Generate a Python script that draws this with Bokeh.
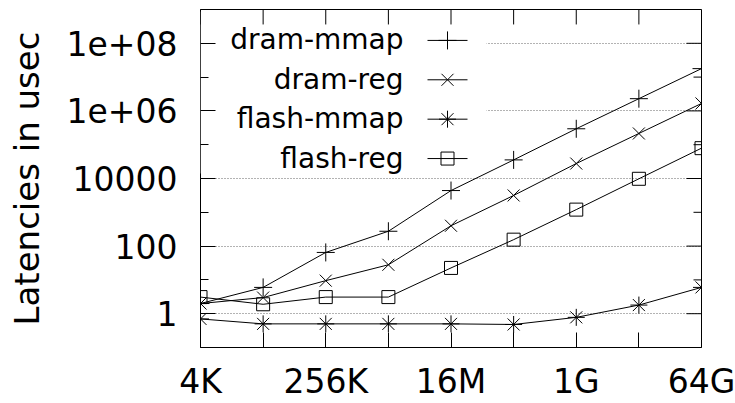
from bokeh.plotting import figure
from bokeh.models import Range1d, FixedTicker, Label, BoxAnnotation, LinearScale
from bokeh.embed import file_html
from bokeh.resources import INLINE

# ---- data ----
sizes = [4096, 32768, 262144, 2097152, 16777216, 134217728,
         1073741824, 8589934592, 68719476736]
x_tick_values = [4096, 262144, 16777216, 1073741824, 68719476736]
x_tick_labels = ["4K", "256K", "16M", "1G", "64G"]
x_minor_values = [32768, 2097152, 134217728, 8589934592]
y_tick_values = [1, 100, 10000, 1000000, 100000000]
y_tick_labels = ["1", "100", "10000", "1e+06", "1e+08"]
y_minor_values = [0.1, 10, 1000, 100000, 10000000, 1000000000]

dram_mmap = [2.0, 6.0, 65, 275, 4400, 35500, 296000, 2.3e6, 1.78e7]
dram_reg = [2.0, 3.0, 9.5, 28, 400, 3150, 27700, 215000, 1.66e6]
flash_mmap = [0.7, 0.5, 0.5, 0.5, 0.5, 0.48, 0.78, 1.8, 6.0]
flash_reg = [3.1, 1.9, 3.1, 3.1, 22.6, 155, 1200, 9800, 79000]

series_names = ["dram-mmap", "dram-reg", "flash-mmap", "flash-reg"]
series_values = [dram_mmap, dram_reg, flash_mmap, flash_reg]
series_markers = ["cross", "x", "asterisk", "square"]
series_sizes = [18, 17, 17, 13]

FONT = "DejaVu Sans"
W, H = 735, 403
BL, BR, BT, BB = 200, 34, 9, 55
FW, FH = W - BL - BR, H - BT - BB

p = figure(width=W, height=H, output_backend="svg", toolbar_location=None,
           x_axis_type="log", y_axis_type="log",
           x_range=Range1d(sizes[0], sizes[-1]), y_range=Range1d(0.1, 1e9),
           min_border_left=BL, min_border_right=BR, min_border_top=BT,
           min_border_bottom=BB)
p.outline_line_color = "black"
p.outline_line_width = 1
p.background_fill_color = "white"
p.border_fill_color = "white"

# pixel-coordinate ranges inside the frame (for key and mirrored ticks)
p.extra_x_ranges = {"px": Range1d(0, FW)}
p.extra_y_ranges = {"px": Range1d(0, FH)}
p.extra_x_scales = {"px": LinearScale()}
p.extra_y_scales = {"px": LinearScale()}

xt = FixedTicker(ticks=x_tick_values, minor_ticks=x_minor_values)
yt = FixedTicker(ticks=y_tick_values, minor_ticks=y_minor_values)

# bottom axis
xa = p.xaxis[0]
xa.ticker = xt
xa.major_label_overrides = {v: l for v, l in zip(x_tick_values, x_tick_labels)}
xa.major_tick_in = 15
xa.major_tick_out = 0
xa.minor_tick_in = 15
xa.minor_tick_out = 0
xa.axis_line_color = None
xa.major_tick_line_color = "black"
xa.minor_tick_line_color = "black"
xa.major_label_text_font = FONT
xa.major_label_text_font_size = "33px"
xa.major_label_text_color = "black"
xa.major_label_standoff = 14

# left axis
ya = p.yaxis[0]
ya.ticker = yt
ya.major_label_overrides = {v: l for v, l in zip(y_tick_values, y_tick_labels)}
ya.major_tick_in = 15
ya.major_tick_out = 0
ya.minor_tick_in = 8
ya.minor_tick_out = 0
ya.axis_line_color = None
ya.major_tick_line_color = "black"
ya.minor_tick_line_color = "black"
ya.major_label_text_font = FONT
ya.major_label_text_font_size = "33px"
ya.major_label_text_color = "black"
ya.major_label_standoff = 23
ya.axis_label = "Latencies in usec"
ya.axis_label_text_font = FONT
ya.axis_label_text_font_size = "34px"
ya.axis_label_text_font_style = "normal"
ya.axis_label_text_color = "black"
ya.axis_label_standoff = 17

p.xgrid.grid_line_color = None
p.ygrid.ticker = yt
p.ygrid.grid_line_color = "#666666"
p.ygrid.grid_line_dash = "1 2"
p.ygrid.grid_line_width = 1

# opaque key area
p.add_layout(BoxAnnotation(left=0, right=286, bottom=174, top=FH - 3,
                           left_units="screen", right_units="screen",
                           top_units="screen", bottom_units="screen",
                           fill_color="white", fill_alpha=1, line_color=None,
                           level="underlay"))

# mirrored ticks (top and right)
p.segment(x0=sizes, x1=sizes, y0=FH - 15, y1=FH, line_color="black",
          line_width=1, y_range_name="px")
p.segment(x0=FW - 15, x1=FW, y0=y_tick_values, y1=y_tick_values,
          line_color="black", line_width=1, x_range_name="px")
p.segment(x0=FW - 8, x1=FW, y0=y_minor_values, y1=y_minor_values,
          line_color="black", line_width=1, x_range_name="px")

key_x0, key_x1, key_text_x = 227, 267, 203
key_rows = [308, 268.5, 229, 189.5]

for name, vals, mk, ms, ky in zip(series_names, series_values, series_markers,
                                  series_sizes, key_rows):
    p.line(sizes, vals, line_color="black", line_width=1)
    p.scatter(sizes, vals, marker=mk, size=ms, line_color="black",
              fill_color=None, line_width=1)
    # key sample
    p.line([key_x0, key_x1], [ky, ky], line_color="black", line_width=1,
           x_range_name="px", y_range_name="px")
    p.scatter([(key_x0 + key_x1) / 2], [ky], marker=mk, size=ms,
              line_color="black", fill_color=None, line_width=1,
              x_range_name="px", y_range_name="px")
    p.add_layout(Label(x=key_text_x, y=ky, x_units="screen", y_units="screen",
                       text=name, text_align="right", text_baseline="middle",
                       text_font=FONT, text_font_size="28px",
                       text_color="black"))

open("out.html", "w").write(file_html(p, INLINE))
